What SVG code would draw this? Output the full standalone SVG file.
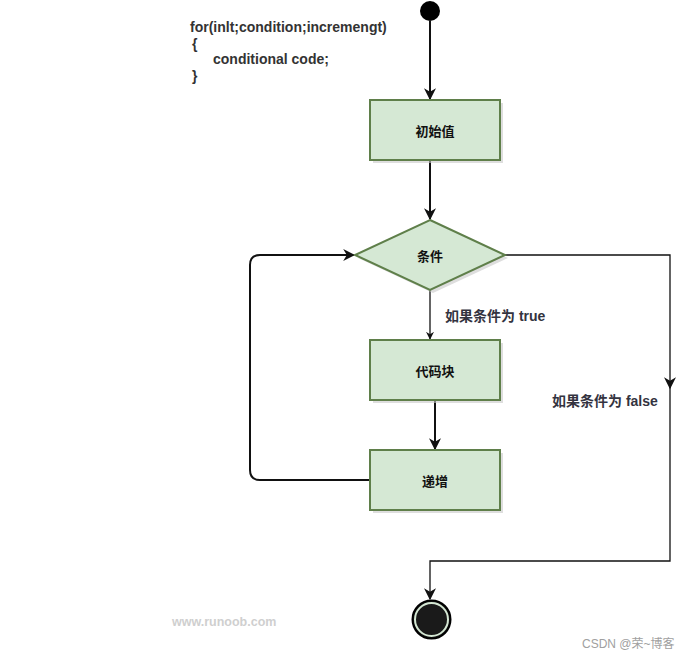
<svg xmlns="http://www.w3.org/2000/svg" width="680" height="658" viewBox="0 0 680 658">
<defs>
<style>
.box{fill:#d5e8d4;stroke:#5f7f4a;stroke-width:2}
.shadow{fill:#c8c8c8;opacity:0.6}
.lbl{font-family:"Noto Sans CJK SC","Liberation Sans",sans-serif;font-size:13px;font-weight:600;fill:#111;text-anchor:middle;dominant-baseline:central}
.edge{font-family:"Liberation Sans","Noto Sans CJK SC",sans-serif;font-size:14px;font-weight:bold;fill:#333340}
.code{font-family:"Liberation Sans",Arial,sans-serif;font-size:14px;font-weight:bold;fill:#333}
.line{fill:none;stroke:#111;stroke-width:2}
.thin{fill:none;stroke:#111;stroke-width:1.3}
</style>
<marker id="arr" viewBox="0 0 10 10" refX="9" refY="5" markerWidth="8" markerHeight="8" markerUnits="userSpaceOnUse" orient="auto">
<path d="M0,0 L10,5 L0,10 L3,5 Z" fill="#111"/>
</marker>
<marker id="arrB" viewBox="0 0 10 10" refX="9" refY="5" markerWidth="12" markerHeight="12" markerUnits="userSpaceOnUse" orient="auto">
<path d="M0,0 L10,5 L0,10 L3,5 Z" fill="#111"/>
</marker>
</defs>
<rect width="680" height="658" fill="#fff"/>
<g id="code">
<text class="code" x="190" y="32">for(inlt;condition;incremengt)</text>
<text class="code" x="192" y="49">{</text>
<text class="code" x="213" y="64">conditional code;</text>
<text class="code" x="192" y="81">}</text>
</g>
<g id="connectors">
<path class="line" d="M430,21 L430,99" marker-end="url(#arrB)"/>
<path class="line" d="M430,160 L430,219" marker-end="url(#arrB)"/>
<path class="thin" d="M430,290 L430,339" marker-end="url(#arr)"/>
<path class="line" d="M435,400 L435,449" marker-end="url(#arrB)"/>
<path class="line" d="M370,480 L260,480 Q250,480 250,470 L250,265 Q250,255 260,255 L354,255" marker-end="url(#arrB)"/>
<path class="thin" d="M505,255 L670,255 L670,388" marker-end="url(#arrB)"/>
<path class="thin" d="M670,385 L670,561 L430,561 L430,599" marker-end="url(#arrB)"/>
<text class="edge" x="445" y="321">如果条件为 true</text>
<text class="edge" x="552" y="406">如果条件为 false</text>
</g>
<g id="start">
<circle cx="430" cy="11" r="10" fill="#000"/>
</g>
<g id="init">
<rect class="shadow" x="373" y="103" width="130" height="60"/>
<rect class="box" x="370" y="100" width="130" height="60"/>
<text class="lbl" x="435" y="130">初始值</text>
</g>
<g id="cond">
<path class="shadow" d="M433,223 L508,258 L433,293 L358,258 Z"/>
<path class="box" d="M430,220 L505,255 L430,290 L355,255 Z"/>
<text class="lbl" x="430" y="255">条件</text>
</g>
<g id="body">
<rect class="shadow" x="373" y="343" width="130" height="60"/>
<rect class="box" x="370" y="340" width="130" height="60"/>
<text class="lbl" x="435" y="370">代码块</text>
</g>
<g id="incr">
<rect class="shadow" x="373" y="453" width="130" height="60"/>
<rect class="box" x="370" y="450" width="130" height="60"/>
<text class="lbl" x="435" y="480">递增</text>
</g>
<g id="end">
<circle cx="431.5" cy="619.5" r="19" fill="#1a1a1a" stroke="#000" stroke-width="2"/>
<circle cx="431.5" cy="619.5" r="16.5" fill="none" stroke="#d5e8d4" stroke-width="2"/>
</g>
<text x="172" y="626" font-family="Liberation Sans,sans-serif" font-size="12.5" font-weight="bold" fill="#cfcfcf">www.runoob.com</text>
<text x="582" y="648" font-family="Liberation Sans,Noto Sans CJK SC,sans-serif" font-size="12" fill="#a0a0a0">CSDN @荣~博客</text>
</svg>
